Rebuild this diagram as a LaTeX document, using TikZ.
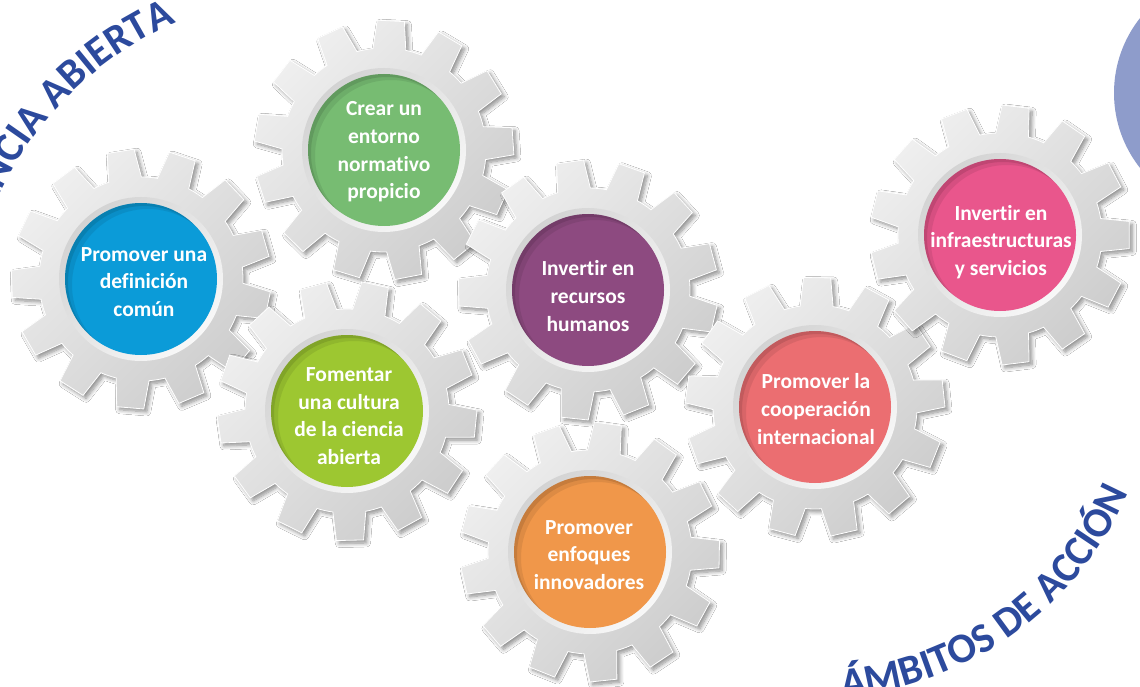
\documentclass[tikz,border=0pt]{standalone}
\usepackage{fontspec}
\setmainfont{Carlito}[Ligatures=NoCommon]
\usetikzlibrary{decorations.text,shadows.blur}
\definecolor{cblue}{HTML}{0B9BD8}
\definecolor{cgreen}{HTML}{77BC72}
\definecolor{cpurple}{HTML}{8D4A80}
\definecolor{clime}{HTML}{9DC731}
\definecolor{corange}{HTML}{F0974A}
\definecolor{ccoral}{HTML}{EB6E71}
\definecolor{cpink}{HTML}{E9568C}
\definecolor{titleblue}{HTML}{2C4A9D}
\definecolor{sidecircle}{HTML}{8E9CCB}
\definecolor{gearlight}{HTML}{EFEFEF}
\definecolor{geardark}{HTML}{CDCDCD}
\definecolor{ringdark}{HTML}{D3D3D3}
\definecolor{ringlight}{HTML}{F8F8F8}
\newcommand\titlestyle{\color{titleblue}\fontsize{42}{42}\selectfont\bfseries}
\tikzset{
  gearbody/.style={blur shadow={shadow xshift=3pt,shadow yshift=-3pt,shadow blur radius=4pt,shadow blur steps=8,shadow opacity=45},
    top color=gearlight, bottom color=geardark, shading angle=45, draw=white, line width=0.8pt},
  ringbevel/.style={top color=ringdark, bottom color=ringlight, shading angle=45},
  gearlabel/.style={text=white, align=center, inner sep=0pt, font=\bfseries\fontsize{21.5}{27.6}\selectfont},
}
\newcommand\drawgear[5]{%
  \path[gearbody, shift={(#1,#2)}] ({#3-9.3}:102)
    \foreach \k in {0,...,12}{
      -- ({#3+\k*27.6923-6}:130) -- ({#3+\k*27.6923+6}:130)
      -- ({#3+\k*27.6923+9.3}:102)
      arc[start angle={#3+\k*27.6923+9.3}, end angle={#3+\k*27.6923+18.3923}, radius=102]
    } -- cycle;
  \path[ringbevel] (#1,#2) circle[radius=82];
  \fill[#4] (#1,#2) circle[radius=76];
  \begin{scope}
    \clip (#1,#2) circle[radius=76];
    \fill[black, opacity=0.10, even odd rule] (#1,#2) circle[radius=78] (#1+3,#2+3) circle[radius=76];
    \fill[black, opacity=0.08, even odd rule] (#1,#2) circle[radius=78] (#1+7,#2+6) circle[radius=76];
  \end{scope}
}
\begin{document}
\begin{tikzpicture}[x=1pt,y=-1pt]
\useasboundingbox (0,0) rectangle (1140,687);
\clip (0,0) rectangle (1140,687);
\fill[white] (0,0) rectangle (1140,687);
\fill[sidecircle] (1235,93) circle[radius=121];

\drawgear{141}{279}{11.7}{cblue}{}
\node[gearlabel] (t1) at (144,282) {Promover una\\definición\\común};

\drawgear{384}{150}{23.8}{cgreen}{}
\node[gearlabel] (t2) at (384,152) {Crear un\\entorno\\normativo\\propicio};

\drawgear{347}{411}{5.6}{clime}{}
\node[gearlabel] (t3) at (349,416) {Fomentar\\una cultura\\de la ciencia\\abierta};

\drawgear{588}{290}{12.8}{cpurple}{}
\node[gearlabel] (t4) at (588,296) {Invertir en\\recursos\\humanos};

\drawgear{590}{552}{1}{corange}{}
\node[gearlabel] (t5) at (589,555) {Promover\\enfoques\\innovadores};

\drawgear{815}{407}{21.7}{ccoral}{}
\node[gearlabel] (t6) at (816,409) {Promover la\\cooperación\\internacional};

\drawgear{1000}{235}{0}{cpink}{}
\node[gearlabel] (t7) at (1001,242) {Invertir en\\infraestructuras\\y servicios};

\path[decorate, decoration={text along path, text align=right,
  text={|\titlestyle|CIENCIA ABIERTA}}]
  ([shift={(183:346)}]314,340) arc[start angle=183, end angle=246.5, radius=346];
\path[decorate, decoration={text along path, text align=center,
  text={|\titlestyle|ÁMBITOS DE ACCIÓN}}]
  ([shift={(89:342)}]815,356) arc[start angle=89, end angle=20, radius=342];
\end{tikzpicture}
\end{document}
